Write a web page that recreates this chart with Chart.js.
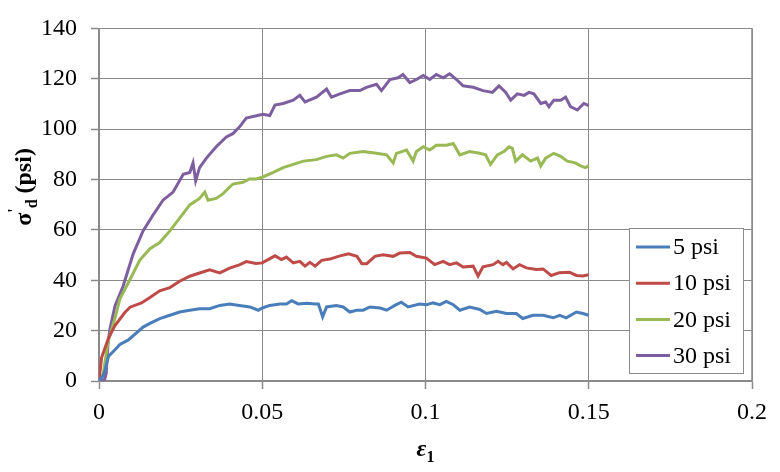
<!DOCTYPE html>
<html>
<head>
<meta charset="utf-8">
<script src="https://cdn.jsdelivr.net/npm/chart.js@4.4.0/dist/chart.umd.min.js"></script>
<style>
  html, body { margin: 0; padding: 0; background: #fff; }
  #wrap { width: 780px; height: 472px; }
</style>
</head>
<body>
<div id="wrap"><canvas id="myChart" width="780" height="472"></canvas></div>
<script>
// Axial strain (eps) and deviator stress (sig)
const eps5 = [0, 0.0012, 0.0018, 0.0029, 0.0049, 0.0064, 0.009, 0.0135, 0.0156, 0.0186, 0.0217, 0.0247, 0.0278, 0.0308, 0.0339, 0.037, 0.04, 0.043, 0.0462, 0.0488, 0.05, 0.0523, 0.0554, 0.0574, 0.059, 0.061, 0.0636, 0.0662, 0.0672, 0.0685, 0.0697, 0.0727, 0.0748, 0.0768, 0.0789, 0.0809, 0.083, 0.0861, 0.0881, 0.0906, 0.0926, 0.0947, 0.0982, 0.1003, 0.1023, 0.1044, 0.1064, 0.1085, 0.1105, 0.1135, 0.1166, 0.1187, 0.1217, 0.1248, 0.1278, 0.1298, 0.1329, 0.136, 0.1391, 0.1411, 0.1431, 0.1462, 0.1482, 0.15];
const sig5 = [0, 2, 4.1, 9.8, 12.4, 14.5, 16.3, 21.4, 22.9, 24.8, 26.1, 27.4, 28.1, 28.7, 28.7, 30, 30.6, 30, 29.4, 28.1, 29, 30, 30.6, 30.6, 31.9, 30.6, 30.9, 30.6, 30.6, 25.5, 29.4, 30, 29.4, 27.4, 28.1, 28.1, 29.4, 29, 28.1, 30, 31.3, 29.4, 30.6, 30.3, 31, 30.3, 31.6, 30.3, 28.1, 29.4, 28.4, 26.8, 27.7, 26.8, 26.8, 24.8, 26.1, 26.1, 25.1, 26.1, 25.1, 27.4, 26.8, 26.1];

const eps10 = [0, 0.0002, 0.0008, 0.0029, 0.0049, 0.0079, 0.0095, 0.013, 0.0156, 0.0186, 0.0217, 0.0247, 0.0278, 0.0308, 0.0339, 0.037, 0.04, 0.043, 0.0451, 0.0481, 0.05, 0.0539, 0.0559, 0.0574, 0.0595, 0.0615, 0.0631, 0.0646, 0.0662, 0.0682, 0.0707, 0.0733, 0.0764, 0.079, 0.0805, 0.082, 0.0845, 0.087, 0.0901, 0.0921, 0.0952, 0.0972, 0.1003, 0.1028, 0.1054, 0.1074, 0.1095, 0.1115, 0.1146, 0.1161, 0.1176, 0.1207, 0.1222, 0.1237, 0.1248, 0.1268, 0.1288, 0.1309, 0.1339, 0.136, 0.1385, 0.141, 0.1441, 0.1462, 0.1482, 0.15];
const sig10 = [0, 2.2, 9.3, 17, 22, 27.2, 29.3, 31, 33.2, 35.8, 37.1, 39.6, 41.6, 42.9, 44.1, 42.9, 44.8, 46.1, 47.4, 46.7, 46.9, 49.7, 48.2, 49.2, 46.9, 47.5, 45.6, 47.1, 45.6, 47.9, 48.4, 49.5, 50.5, 49.5, 46.6, 46.6, 49.5, 50.1, 49.5, 50.8, 51, 49.5, 48.8, 46.2, 47.5, 46.2, 46.9, 45.3, 45.6, 41.7, 45.3, 46.2, 47.5, 46.2, 47.1, 44.5, 46.2, 44.9, 44.3, 44.5, 41.9, 43, 43.2, 41.9, 41.7, 42.2];

const eps20 = [0, 0.0013, 0.0028, 0.0049, 0.0064, 0.0095, 0.0125, 0.0156, 0.0186, 0.0217, 0.0247, 0.0278, 0.0308, 0.0324, 0.0334, 0.0359, 0.038, 0.041, 0.0441, 0.0461, 0.0481, 0.05, 0.0534, 0.0564, 0.0595, 0.0626, 0.0666, 0.0697, 0.0727, 0.0748, 0.0768, 0.0809, 0.085, 0.0881, 0.0901, 0.0911, 0.0942, 0.0962, 0.0972, 0.0993, 0.1013, 0.1033, 0.1064, 0.1085, 0.1105, 0.1135, 0.1166, 0.1184, 0.1199, 0.122, 0.124, 0.1256, 0.1266, 0.1276, 0.1297, 0.1322, 0.1343, 0.1353, 0.1368, 0.1393, 0.1414, 0.1434, 0.1459, 0.1475, 0.149, 0.15];
const sig20 = [0, 2.8, 15.7, 25, 32.6, 40.3, 48, 52.5, 55, 59.6, 64.7, 69.9, 72.5, 75, 71.8, 72.5, 74.4, 78.2, 78.9, 80.2, 80.2, 80.9, 82.8, 84.7, 86, 87.3, 87.9, 89.2, 89.8, 88.5, 90.4, 91.1, 90.4, 89.8, 86.6, 90.4, 91.7, 87.3, 91.1, 93, 91.7, 93.6, 93.6, 94.3, 89.8, 91.1, 90.4, 89.8, 86, 89.8, 91.1, 93, 92.4, 87.3, 89.8, 87.3, 88.5, 85.4, 88.5, 90.4, 89.2, 87.3, 86.6, 85.4, 84.7, 85.6];

const eps30 = [0, 0.0017, 0.0022, 0.0028, 0.0034, 0.0049, 0.0074, 0.0105, 0.0135, 0.0166, 0.0196, 0.0227, 0.0258, 0.0278, 0.0288, 0.0296, 0.0308, 0.0329, 0.0359, 0.039, 0.041, 0.043, 0.0451, 0.0502, 0.0523, 0.0539, 0.0564, 0.0595, 0.0615, 0.0631, 0.0666, 0.0697, 0.0712, 0.0738, 0.0768, 0.0799, 0.0819, 0.085, 0.0865, 0.0891, 0.0916, 0.0931, 0.0952, 0.0972, 0.0993, 0.1013, 0.1033, 0.1054, 0.1074, 0.1095, 0.1115, 0.1146, 0.1176, 0.1205, 0.1225, 0.1246, 0.1261, 0.1281, 0.1302, 0.1317, 0.1332, 0.1353, 0.1368, 0.1378, 0.1393, 0.1414, 0.1429, 0.1444, 0.1465, 0.1485, 0.15];
const sig30 = [0, 0.5, 3, 15.7, 20.9, 29.8, 37.7, 50.6, 59.6, 66, 71.8, 75, 82.1, 82.8, 86.6, 79.5, 84.7, 88.5, 93, 96.9, 98.2, 100.8, 104.4, 105.9, 105.4, 109.6, 110.2, 111.5, 113.4, 110.8, 112.7, 115.9, 112.7, 114, 115.3, 115.3, 116.6, 117.8, 115.3, 119.7, 120.4, 121.7, 118.5, 119.7, 121.3, 119.7, 121.7, 120.4, 122, 119.7, 117.2, 116.6, 115.3, 114.6, 117.2, 114.6, 111.5, 114, 113.4, 114.6, 114, 110.2, 110.8, 108.9, 111.5, 111.5, 112.7, 108.9, 107.6, 110.2, 109.3];

const seriesLabels = ['5 psi', '10 psi', '20 psi', '30 psi'];
const xTicks = [0, 0.05, 0.1, 0.15, 0.2];
const yTicks = [0, 20, 40, 60, 80, 100, 120, 140];

const colors = ['#4A7EBB', '#BE4B48', '#98B954', '#7D5FA0'];
const axisGray = '#8a8a8a';
const serif = "'Liberation Serif', 'Times New Roman', serif";

function toPoints(xs, ys) {
    return xs.map((x, i) => ({ x: x, y: ys[i] }));
}

const allSeries = [[eps5, sig5], [eps10, sig10], [eps20, sig20], [eps30, sig30]];

// Legend box, axis titles and right frame line
const decorations = {
    id: 'decorations',
    afterDraw(chart) {
        const ctx = chart.ctx;
        const area = chart.chartArea;
        ctx.save();

        // right frame
        ctx.strokeStyle = axisGray;
        ctx.lineWidth = 1.5;
        ctx.setLineDash([]);
        ctx.beginPath();
        ctx.moveTo(area.right, area.top);
        ctx.lineTo(area.right, area.bottom);
        ctx.stroke();

        // legend
        const lx = 629, ly = 228, lw = 114, lh = 145;
        ctx.fillStyle = '#fff';
        ctx.fillRect(lx, ly, lw, lh);
        ctx.strokeStyle = axisGray;
        ctx.lineWidth = 1;
        ctx.strokeRect(lx + 0.5, ly + 0.5, lw, lh);
        ctx.font = '24px ' + serif;
        ctx.textBaseline = 'middle';
        ctx.textAlign = 'left';
        chart.data.datasets.forEach((ds, i) => {
            const y = ly + 19 + i * 36.2;
            ctx.strokeStyle = ds.borderColor;
            ctx.lineWidth = 3;
            ctx.beginPath();
            ctx.moveTo(lx + 7, y);
            ctx.lineTo(lx + 41, y);
            ctx.stroke();
            ctx.fillStyle = '#000';
            ctx.fillText(ds.label, lx + 44, y + 1);
        });

        // y title: sigma' d (psi)
        ctx.save();
        ctx.translate(31, 187);
        ctx.rotate(-Math.PI / 2);
        ctx.fillStyle = '#000';
        ctx.textBaseline = 'alphabetic';
        const big = 'bold 24px ' + serif;
        const small = 'bold 16px ' + serif;
        ctx.font = big;
        const wSig = ctx.measureText('\u03c3').width;
        const wRest = ctx.measureText(' (psi)').width;
        ctx.font = small;
        const wPrime = ctx.measureText("'").width;
        const wD = ctx.measureText('d').width;
        const total = wSig + wPrime + wD + wRest;
        let x = -total / 2;
        ctx.font = big;
        ctx.fillText('\u03c3', x, 0);
        x += wSig;
        ctx.font = small;
        ctx.fillText("'", x, -12);
        x += wPrime;
        ctx.fillText('d', x, 6);
        x += wD;
        ctx.font = big;
        ctx.fillText(' (psi)', x, 0);
        ctx.restore();

        // x title: epsilon 1
        ctx.fillStyle = '#000';
        ctx.textBaseline = 'alphabetic';
        ctx.font = 'bold italic 24px ' + serif;
        const wEps = ctx.measureText('\u03b5').width;
        ctx.font = 'bold 16px ' + serif;
        const wOne = ctx.measureText('1').width;
        const cx = (area.left + area.right) / 2;
        let ex = cx - (wEps + wOne) / 2;
        ctx.font = 'bold italic 24px ' + serif;
        ctx.fillText('\u03b5', ex, 456);
        ctx.font = 'bold 16px ' + serif;
        ctx.fillText('1', ex + wEps, 462);

        ctx.restore();
    }
};

const ctx = document.getElementById('myChart');

const myChart = new Chart(ctx, {
    type: 'line',
    data: {
        datasets: allSeries.map((s, i) => ({
            label: seriesLabels[i],
            data: toPoints(s[0], s[1]),
            borderColor: colors[i],
            backgroundColor: colors[i],
            borderWidth: 3,
            pointRadius: 0,
            tension: 0,
            fill: false
        }))
    },
    options: {
        responsive: false,
        animation: false,
        layout: { padding: { left: 0, right: 28, top: 17, bottom: 0 } },
        plugins: {
            legend: { display: false },
            tooltip: { enabled: false }
        },
        scales: {
            x: {
                type: 'linear',
                min: 0,
                max: 0.2,
                afterBuildTicks: (scale) => { scale.ticks = xTicks.map(v => ({ value: v })); },
                afterFit: (scale) => { scale.height = 91; },
                ticks: {
                    font: { family: serif, size: 24 },
                    color: '#000',
                    padding: 9,
                    maxRotation: 0,
                    callback: (v) => String(v)
                },
                grid: {
                    color: axisGray,
                    lineWidth: 1,
                    borderDash: [6, 3, 2, 3],
                    tickLength: 8,
                    tickColor: axisGray,
                    tickWidth: 1.5,
                    tickBorderDash: []
                },
                border: { display: true, color: axisGray, width: 1.5 }
            },
            y: {
                min: 0,
                max: 140,
                afterBuildTicks: (scale) => { scale.ticks = yTicks.map(v => ({ value: v })); },
                afterFit: (scale) => { scale.width = 99; },
                ticks: {
                    font: { family: serif, size: 24 },
                    color: '#000',
                    padding: 14
                },
                grid: {
                    color: axisGray,
                    lineWidth: 1,
                    borderDash: [6, 3, 2, 3],
                    tickLength: 8,
                    tickColor: axisGray,
                    tickWidth: 1.5,
                    tickBorderDash: []
                },
                border: { display: true, color: axisGray, width: 1.5 }
            }
        }
    },
    plugins: [decorations]
});
</script>
</body>
</html>
